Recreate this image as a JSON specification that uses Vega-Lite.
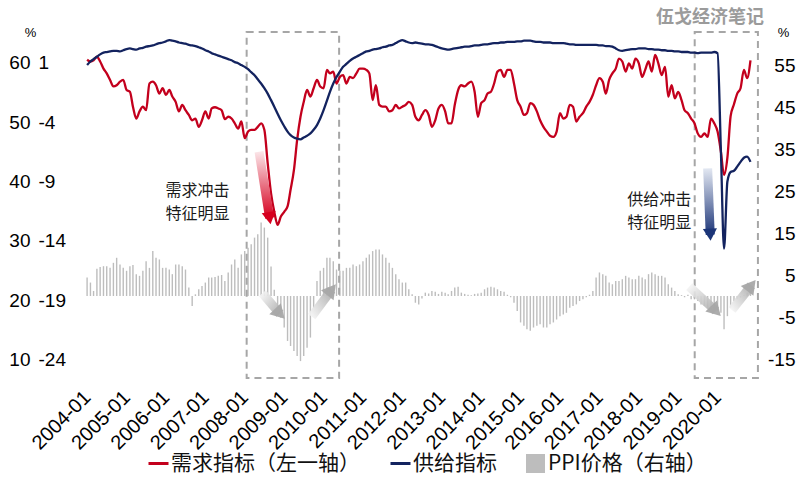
{
"$schema": "https://vega.github.io/schema/vega-lite/v6.json",
"width": 690, "height": 347,
"autosize": {"type": "none"},
"padding": {"left": 74, "top": 33, "right": 36, "bottom": 97},
"background": "white",
"title": {"text": "伍戈经济笔记", "anchor": "end", "frame": "group", "font": "Noto Sans CJK SC", "fontSize": 18, "fontWeight": "bold", "color": "#9b9b9b", "offset": -1},
"config": {"view": {"stroke": null}, "axis": {"grid": false, "domain": false, "ticks": false, "tickSize": 0, "labels": true}},
"datasets": {
"main": [
{"d":"2004-01","r":60.5,"b":0.8,"p":4.4},{"d":"2004-02","r":60.2,"b":1.1,"p":3.2},{"d":"2004-03","r":60.4,"b":1.3,"p":1.2},{"d":"2004-04","r":61.0,"b":1.5,"p":6.5},{"d":"2004-05","r":60.2,"b":1.7,"p":6.9},{"d":"2004-06","r":59.0,"b":1.85,"p":7.1},{"d":"2004-07","r":58.2,"b":1.9,"p":7.1},{"d":"2004-08","r":57.1,"b":1.95,"p":6.7},{"d":"2004-09","r":56.0,"b":2.0,"p":7.9},{"d":"2004-10","r":56.2,"b":2.0,"p":9.1},{"d":"2004-11","r":56.8,"b":1.95,"p":7.5},{"d":"2004-12","r":57.1,"b":2.05,"p":6.7},
{"d":"2005-01","r":55.4,"b":2.15,"p":6.0},{"d":"2005-02","r":55.1,"b":2.2,"p":7.1},{"d":"2005-03","r":52.6,"b":2.15,"p":7.4},{"d":"2005-04","r":50.6,"b":2.1,"p":5.2},{"d":"2005-05","r":51.8,"b":2.2,"p":4.8},{"d":"2005-06","r":52.6,"b":2.25,"p":6.0},{"d":"2005-07","r":52.0,"b":2.35,"p":8.3},{"d":"2005-08","r":56.5,"b":2.4,"p":6.7},{"d":"2005-09","r":56.8,"b":2.45,"p":10.7},{"d":"2005-10","r":56.2,"b":2.55,"p":9.1},{"d":"2005-11","r":54.8,"b":2.65,"p":8.7},{"d":"2005-12","r":55.7,"b":2.7,"p":6.7},
{"d":"2006-01","r":54.6,"b":2.8,"p":6.7},{"d":"2006-02","r":55.4,"b":2.9,"p":6.3},{"d":"2006-03","r":54.3,"b":2.85,"p":5.2},{"d":"2006-04","r":53.4,"b":2.8,"p":7.5},{"d":"2006-05","r":51.8,"b":2.7,"p":7.5},{"d":"2006-06","r":52.9,"b":2.65,"p":7.1},{"d":"2006-07","r":52.0,"b":2.6,"p":6.3},{"d":"2006-08","r":51.2,"b":2.5,"p":2.0},{"d":"2006-09","r":50.3,"b":2.45,"p":-2.4},{"d":"2006-10","r":50.6,"b":2.4,"p":0.4},{"d":"2006-11","r":49.2,"b":2.3,"p":1.6},{"d":"2006-12","r":50.3,"b":2.2,"p":2.4},
{"d":"2007-01","r":51.8,"b":2.05,"p":3.2},{"d":"2007-02","r":50.6,"b":1.95,"p":4.4},{"d":"2007-03","r":52.3,"b":1.8,"p":4.4},{"d":"2007-04","r":52.5,"b":1.7,"p":4.5},{"d":"2007-05","r":52.3,"b":1.6,"p":4.8},{"d":"2007-06","r":52.0,"b":1.5,"p":5.0},{"d":"2007-07","r":50.5,"b":1.4,"p":3.6},{"d":"2007-08","r":50.9,"b":1.3,"p":5.6},{"d":"2007-09","r":50.6,"b":1.2,"p":7.5},{"d":"2007-10","r":49.8,"b":1.05,"p":8.7},{"d":"2007-11","r":48.9,"b":0.95,"p":6.7},{"d":"2007-12","r":50.1,"b":0.8,"p":9.9},
{"d":"2008-01","r":47.3,"b":0.65,"p":10.7},{"d":"2008-02","r":48.4,"b":0.45,"p":11.5},{"d":"2008-03","r":48.7,"b":0.2,"p":12.3},{"d":"2008-04","r":48.7,"b":-0.05,"p":13.9},{"d":"2008-05","r":49.2,"b":-0.4,"p":14.7},{"d":"2008-06","r":49.8,"b":-0.75,"p":17.5},{"d":"2008-07","r":48.7,"b":-1.15,"p":16.3},{"d":"2008-08","r":43.1,"b":-1.6,"p":13.9},{"d":"2008-09","r":38.0,"b":-2.15,"p":7.0},{"d":"2008-10","r":34.9,"b":-2.7,"p":1.5},{"d":"2008-11","r":32.7,"b":-3.3,"p":-2.4},{"d":"2008-12","r":34.1,"b":-3.85,"p":-5.2},
{"d":"2009-01","r":34.9,"b":-4.35,"p":-7.5},{"d":"2009-02","r":35.8,"b":-4.8,"p":-10.7},{"d":"2009-03","r":38.6,"b":-5.1,"p":-11.9},{"d":"2009-04","r":41.9,"b":-5.3,"p":-13.1},{"d":"2009-05","r":47.0,"b":-5.4,"p":-14.3},{"d":"2009-06","r":50.9,"b":-5.45,"p":-15.5},{"d":"2009-07","r":53.4,"b":-5.3,"p":-14.3},{"d":"2009-08","r":55.4,"b":-5.15,"p":-12.3},{"d":"2009-09","r":54.3,"b":-4.95,"p":-9.9},{"d":"2009-10","r":55.7,"b":-4.65,"p":-2.8},{"d":"2009-11","r":57.1,"b":-4.25,"p":3.6},{"d":"2009-12","r":56.0,"b":-3.7,"p":6.0},
{"d":"2010-01","r":55.7,"b":-3.0,"p":6.7},{"d":"2010-02","r":58.8,"b":-2.2,"p":9.1},{"d":"2010-03","r":58.2,"b":-1.45,"p":9.1},{"d":"2010-04","r":58.5,"b":-0.75,"p":8.3},{"d":"2010-05","r":56.5,"b":-0.2,"p":6.3},{"d":"2010-06","r":57.6,"b":0.25,"p":6.0},{"d":"2010-07","r":57.9,"b":0.65,"p":6.0},{"d":"2010-08","r":56.5,"b":0.9,"p":6.7},{"d":"2010-09","r":57.6,"b":1.15,"p":6.7},{"d":"2010-10","r":57.4,"b":1.35,"p":7.5},{"d":"2010-11","r":58.2,"b":1.5,"p":7.1},{"d":"2010-12","r":59.0,"b":1.65,"p":7.5},
{"d":"2011-01","r":59.0,"b":1.8,"p":8.3},{"d":"2011-02","r":58.8,"b":1.95,"p":9.1},{"d":"2011-03","r":58.2,"b":2.0,"p":9.9},{"d":"2011-04","r":53.7,"b":2.1,"p":10.7},{"d":"2011-05","r":56.2,"b":2.15,"p":11.1},{"d":"2011-06","r":52.9,"b":2.2,"p":11.1},{"d":"2011-07","r":52.6,"b":2.3,"p":9.9},{"d":"2011-08","r":52.6,"b":2.35,"p":9.1},{"d":"2011-09","r":51.8,"b":2.45,"p":7.9},{"d":"2011-10","r":52.0,"b":2.5,"p":6.7},{"d":"2011-11","r":52.9,"b":2.65,"p":5.2},{"d":"2011-12","r":52.3,"b":2.8,"p":4.0},
{"d":"2012-01","r":52.6,"b":2.9,"p":3.2},{"d":"2012-02","r":52.9,"b":2.8,"p":3.2},{"d":"2012-03","r":53.4,"b":2.7,"p":1.6},{"d":"2012-04","r":52.9,"b":2.65,"p":0.4},{"d":"2012-05","r":50.9,"b":2.7,"p":-1.6},{"d":"2012-06","r":50.3,"b":2.65,"p":-2.0},{"d":"2012-07","r":51.2,"b":2.6,"p":-0.6},{"d":"2012-08","r":52.0,"b":2.55,"p":0.8},{"d":"2012-09","r":51.2,"b":2.55,"p":0.6},{"d":"2012-10","r":49.2,"b":2.5,"p":1.2},{"d":"2012-11","r":50.3,"b":2.4,"p":1.0},{"d":"2012-12","r":52.3,"b":2.3,"p":0.5},
{"d":"2013-01","r":52.9,"b":2.2,"p":1.0},{"d":"2013-02","r":51.8,"b":2.15,"p":0.8},{"d":"2013-03","r":49.8,"b":2.1,"p":0.4},{"d":"2013-04","r":49.8,"b":2.15,"p":1.2},{"d":"2013-05","r":52.9,"b":2.2,"p":2.0},{"d":"2013-06","r":55.4,"b":2.25,"p":2.2},{"d":"2013-07","r":56.2,"b":2.3,"p":0.8},{"d":"2013-08","r":56.0,"b":2.35,"p":0.5},{"d":"2013-09","r":56.5,"b":2.35,"p":0.3},{"d":"2013-10","r":56.8,"b":2.4,"p":0.2},{"d":"2013-11","r":55.1,"b":2.45,"p":0.5},{"d":"2013-12","r":50.9,"b":2.45,"p":0.6},
{"d":"2014-01","r":53.2,"b":2.5,"p":0.8},{"d":"2014-02","r":53.7,"b":2.55,"p":1.6},{"d":"2014-03","r":54.8,"b":2.55,"p":2.0},{"d":"2014-04","r":55.1,"b":2.6,"p":2.2},{"d":"2014-05","r":56.5,"b":2.65,"p":2.0},{"d":"2014-06","r":58.5,"b":2.65,"p":1.6},{"d":"2014-07","r":58.8,"b":2.7,"p":1.2},{"d":"2014-08","r":57.6,"b":2.7,"p":1.0},{"d":"2014-09","r":58.8,"b":2.75,"p":0.3},{"d":"2014-10","r":58.8,"b":2.75,"p":-0.3},{"d":"2014-11","r":56.5,"b":2.75,"p":-1.6},{"d":"2014-12","r":53.7,"b":2.8,"p":-3.6},
{"d":"2015-01","r":52.6,"b":2.8,"p":-6.3},{"d":"2015-02","r":51.2,"b":2.85,"p":-7.1},{"d":"2015-03","r":51.5,"b":2.85,"p":-7.9},{"d":"2015-04","r":53.2,"b":2.85,"p":-8.3},{"d":"2015-05","r":52.9,"b":2.8,"p":-7.5},{"d":"2015-06","r":51.8,"b":2.75,"p":-7.1},{"d":"2015-07","r":50.3,"b":2.75,"p":-6.7},{"d":"2015-08","r":49.2,"b":2.7,"p":-7.5},{"d":"2015-09","r":48.4,"b":2.7,"p":-7.5},{"d":"2015-10","r":47.7,"b":2.7,"p":-6.7},{"d":"2015-11","r":47.5,"b":2.65,"p":-6.3},{"d":"2015-12","r":48.4,"b":2.65,"p":-5.6},
{"d":"2016-01","r":51.5,"b":2.65,"p":-4.8},{"d":"2016-02","r":50.6,"b":2.65,"p":-4.4},{"d":"2016-03","r":50.9,"b":2.6,"p":-4.0},{"d":"2016-04","r":52.9,"b":2.55,"p":-2.8},{"d":"2016-05","r":52.6,"b":2.55,"p":-2.4},{"d":"2016-06","r":50.1,"b":2.5,"p":-2.0},{"d":"2016-07","r":50.9,"b":2.5,"p":-1.2},{"d":"2016-08","r":51.5,"b":2.5,"p":-0.8},{"d":"2016-09","r":52.6,"b":2.5,"p":-0.3},{"d":"2016-10","r":53.4,"b":2.5,"p":0.3},{"d":"2016-11","r":54.6,"b":2.5,"p":1.2},{"d":"2016-12","r":56.2,"b":2.5,"p":4.4},
{"d":"2017-01","r":57.4,"b":2.45,"p":5.6},{"d":"2017-02","r":56.8,"b":2.45,"p":5.2},{"d":"2017-03","r":54.8,"b":2.4,"p":4.8},{"d":"2017-04","r":57.1,"b":2.4,"p":3.2},{"d":"2017-05","r":58.2,"b":2.35,"p":2.8},{"d":"2017-06","r":59.0,"b":2.2,"p":3.6},{"d":"2017-07","r":60.7,"b":2.05,"p":3.6},{"d":"2017-08","r":60.2,"b":2.0,"p":4.0},{"d":"2017-09","r":58.5,"b":2.05,"p":4.8},{"d":"2017-10","r":59.9,"b":2.1,"p":4.4},{"d":"2017-11","r":59.0,"b":2.15,"p":4.0},{"d":"2017-12","r":60.7,"b":2.15,"p":4.0},
{"d":"2018-01","r":59.9,"b":2.2,"p":4.8},{"d":"2018-02","r":57.6,"b":2.2,"p":4.4},{"d":"2018-03","r":58.8,"b":2.2,"p":4.0},{"d":"2018-04","r":60.2,"b":2.15,"p":5.2},{"d":"2018-05","r":58.5,"b":2.15,"p":5.6},{"d":"2018-06","r":61.3,"b":2.1,"p":5.2},{"d":"2018-07","r":59.9,"b":2.1,"p":4.8},{"d":"2018-08","r":57.9,"b":2.05,"p":4.8},{"d":"2018-09","r":59.3,"b":2.05,"p":4.4},{"d":"2018-10","r":54.3,"b":2.0,"p":2.8},{"d":"2018-11","r":56.2,"b":2.0,"p":2.0},{"d":"2018-12","r":54.0,"b":1.95,"p":1.2},
{"d":"2019-01","r":55.1,"b":1.95,"p":0.4},{"d":"2019-02","r":53.7,"b":1.9,"p":0.2},{"d":"2019-03","r":52.0,"b":1.9,"p":-0.3},{"d":"2019-04","r":51.5,"b":1.9,"p":0.3},{"d":"2019-05","r":50.6,"b":1.85,"p":-0.8},{"d":"2019-06","r":49.8,"b":1.85,"p":-0.8},{"d":"2019-07","r":48.1,"b":1.8,"p":-1.2},{"d":"2019-08","r":47.5,"b":1.85,"p":-2.0},{"d":"2019-09","r":48.1,"b":1.85,"p":-2.4},{"d":"2019-10","r":47.5,"b":1.85,"p":-2.8},{"d":"2019-11","r":50.6,"b":1.85,"p":-3.2},{"d":"2019-12","r":49.8,"b":1.9,"p":-3.2},
{"d":"2020-01","r":48.4,"b":1.8,"p":-3.6},{"d":"2020-02","r":45.0,"b":-6.5,"p":-4.0},{"d":"2020-03","r":41.1,"b":-14.65,"p":-7.9},{"d":"2020-04","r":44.0,"b":-9.0,"p":-4.8},{"d":"2020-05","r":51.0,"b":-8.2,"p":-2.8},{"d":"2020-06","r":53.0,"b":-8.1,"p":-1.2},{"d":"2020-07","r":54.8,"b":-7.75,"p":-0.8},{"d":"2020-08","r":55.7,"b":-7.35,"p":-0.4},{"d":"2020-09","r":58.8,"b":-7.0,"p":0.2},{"d":"2020-10","r":57.4,"b":-6.9,"p":0.8},{"d":"2020-11","r":60.4,"b":-7.35,"p":1.0}
],
"boxes": [{"d":"2008-01-19","d2":"2010-05-25","v":65.15,"v2":6.92},{"d":"2019-06-03","d2":"2021-01-09","v":65.15,"v2":6.92}],
"notes": [{"d":"2006-10-20","v":38.4,"t":"需求冲击\n特征明显"},{"d":"2018-07-10","v":36.9,"t":"供给冲击\n特征明显"}],
"redArrow": [{"d":"2008-05-13","v":45.02,"d2":"2008-08-19","v2":33.84}],
"blueArrow": [{"d":"2019-10-01","v":42.22,"d2":"2019-10-25","v2":31.04}],
"greyDown": [{"d":"2008-06-13","v":21.18,"d2":"2008-11-22","v2":17.73},{"d":"2019-04-13","v":22.29,"d2":"2019-12-17","v2":18.2}],
"greyUp": [{"d":"2009-09-13","v":17.24,"d2":"2010-03-16","v2":21.77},{"d":"2020-05-13","v":18.37,"d2":"2020-11-09","v2":22.51}]
},
"layer": [
{
"data": {"name": "main"},
"mark": {"type": "bar", "width": 1.4},
"encoding": {
"x": {"field": "d", "type": "temporal", "scale": {"type": "utc", "domain": [{"year":2003,"month":10,"date":18,"utc":true},{"year":2021,"month":1,"date":19,"utc":true}]},
 "axis": {"orient": "bottom", "values": [{"year":2004,"month":1,"date":1,"utc":true},{"year":2005,"month":1,"date":1,"utc":true},{"year":2006,"month":1,"date":1,"utc":true},{"year":2007,"month":1,"date":1,"utc":true},{"year":2008,"month":1,"date":1,"utc":true},{"year":2009,"month":1,"date":1,"utc":true},{"year":2010,"month":1,"date":1,"utc":true},{"year":2011,"month":1,"date":1,"utc":true},{"year":2012,"month":1,"date":1,"utc":true},{"year":2013,"month":1,"date":1,"utc":true},{"year":2014,"month":1,"date":1,"utc":true},{"year":2015,"month":1,"date":1,"utc":true},{"year":2016,"month":1,"date":1,"utc":true},{"year":2017,"month":1,"date":1,"utc":true},{"year":2018,"month":1,"date":1,"utc":true},{"year":2019,"month":1,"date":1,"utc":true},{"year":2020,"month":1,"date":1,"utc":true}],
  "labelExpr": "utcFormat(datum.value, '%Y-%m')", "labelAngle": -45, "labelAlign": "right", "labelBaseline": "middle", "labelPadding": 14,
  "labelFont": "Liberation Sans", "labelFontSize": 20, "labelColor": "#000000", "labelOverlap": false, "labelFlush": false, "labelBound": false, "title": null}},
"y": {"field": "p", "type": "quantitative", "scale": {"domain": [-20, 62.62]},
 "axis": {"orient": "right", "values": [-15,-5,5,15,25,35,45,55], "labelExpr": "datum.value + ''", "labelAlign": "right", "labelPadding": 31,
  "labelFont": "Liberation Sans", "labelFontSize": 19, "labelColor": "#000000", "labelOverlap": false, "labelFlush": false,
  "title": "%", "titleAngle": 0, "titleX": 19, "titleY": -1, "titleAlign": "center", "titleBaseline": "middle", "titleFont": "Liberation Sans", "titleFontSize": 13, "titleFontWeight": "normal", "titleColor": "#000000"}},
"color": {"datum": "PPI价格（右轴）", "scale": {"domain": ["需求指标（左一轴）", "供给指标", "PPI价格（右轴）"], "range": ["#c3001d", "#13235f", "#bdbdbd"]},
 "legend": {"orient": "none", "legendX": 73, "legendY": 419, "direction": "horizontal", "title": null, "padding": 0, "gridAlign": "none",
  "labelFont": "Noto Sans CJK SC", "labelFontSize": 21, "labelColor": "#111111", "labelLimit": 400, "labelOffset": 1, "columnPadding": 24, "symbolSize": 400,
  "encode": {"symbols": {"update": {
   "shape": {"signal": "datum.index === 2 ? 'square' : 'stroke'"},
   "stroke": {"signal": "datum.index === 2 ? 'transparent' : scale('color', datum.value)"},
   "fill": {"signal": "datum.index === 2 ? scale('color', datum.value) : 'transparent'"},
   "strokeWidth": {"value": 3},
   "size": {"signal": "datum.index === 2 ? 256 : 400"},
   "opacity": {"value": 1}}}}}}
}
},
{
"layer": [
{
"data": {"name": "boxes"},
"mark": {"type": "rect", "fill": "transparent", "stroke": "#a6a6a6", "strokeWidth": 2, "strokeDash": [7, 5]},
"encoding": {
"x": {"field": "d", "type": "temporal", "scale": {"type": "utc", "domain": [{"year":2003,"month":10,"date":18,"utc":true},{"year":2021,"month":1,"date":19,"utc":true}]}},
"x2": {"field": "d2"},
"y": {"field": "v", "type": "quantitative", "scale": {"domain": [6.58, 65]}},
"y2": {"field": "v2"}
}
},
{
"data": {"name": "main"},
"mark": {"type": "line", "strokeWidth": 2.3, "interpolate": "monotone"},
"encoding": {
"x": {"field": "d", "type": "temporal", "scale": {"type": "utc", "domain": [{"year":2003,"month":10,"date":18,"utc":true},{"year":2021,"month":1,"date":19,"utc":true}]}},
"y": {"field": "r", "type": "quantitative", "scale": {"domain": [6.58, 65]},
 "axis": {"orient": "left", "values": [10,20,30,40,50,60], "labelPadding": 44, "labelFont": "Liberation Sans", "labelFontSize": 19, "labelColor": "#000000", "labelOverlap": false, "labelFlush": false,
  "title": "%", "titleAngle": 0, "titleX": -44, "titleY": -1, "titleAlign": "center", "titleBaseline": "middle", "titleFont": "Liberation Sans", "titleFontSize": 13, "titleFontWeight": "normal", "titleColor": "#000000"}},
"color": {"datum": "需求指标（左一轴）"}
}
},
{
"data": {"name": "greyDown"},
"mark": {"type": "rule", "strokeWidth": 9, "strokeCap": "butt", "opacity": 0.9, "stroke": {"gradient": "linear", "x1": 0, "y1": 0, "x2": 1, "y2": 1, "stops": [{"offset": 0, "color": "#f4f4f4"}, {"offset": 1, "color": "#a8a8a8"}]}},
"encoding": {
"x": {"field": "d", "type": "temporal", "scale": {"type": "utc", "domain": [{"year":2003,"month":10,"date":18,"utc":true},{"year":2021,"month":1,"date":19,"utc":true}]}},
"x2": {"field": "d2"},
"y": {"field": "v", "type": "quantitative", "scale": {"domain": [6.58, 65]}},
"y2": {"field": "v2"}
}
},
{
"data": {"name": "greyDown"},
"mark": {"type": "point", "shape": "triangle-down", "angle": -44, "size": 256, "filled": true, "color": "#a8a8a8", "opacity": 0.95},
"encoding": {
"x": {"field": "d2", "type": "temporal", "scale": {"type": "utc", "domain": [{"year":2003,"month":10,"date":18,"utc":true},{"year":2021,"month":1,"date":19,"utc":true}]}},
"y": {"field": "v2", "type": "quantitative", "scale": {"domain": [6.58, 65]}}
}
},
{
"data": {"name": "greyUp"},
"mark": {"type": "rule", "strokeWidth": 9, "strokeCap": "butt", "opacity": 0.9, "stroke": {"gradient": "linear", "x1": 0, "y1": 1, "x2": 1, "y2": 0, "stops": [{"offset": 0, "color": "#f4f4f4"}, {"offset": 1, "color": "#a8a8a8"}]}},
"encoding": {
"x": {"field": "d", "type": "temporal", "scale": {"type": "utc", "domain": [{"year":2003,"month":10,"date":18,"utc":true},{"year":2021,"month":1,"date":19,"utc":true}]}},
"x2": {"field": "d2"},
"y": {"field": "v", "type": "quantitative", "scale": {"domain": [6.58, 65]}},
"y2": {"field": "v2"}
}
},
{
"data": {"name": "greyUp"},
"mark": {"type": "point", "shape": "triangle-up", "angle": 38, "size": 256, "filled": true, "color": "#a8a8a8", "opacity": 0.95},
"encoding": {
"x": {"field": "d2", "type": "temporal", "scale": {"type": "utc", "domain": [{"year":2003,"month":10,"date":18,"utc":true},{"year":2021,"month":1,"date":19,"utc":true}]}},
"y": {"field": "v2", "type": "quantitative", "scale": {"domain": [6.58, 65]}}
}
},
{
"data": {"name": "redArrow"},
"mark": {"type": "rule", "strokeWidth": 9, "strokeCap": "butt", "stroke": {"gradient": "linear", "x1": 0, "y1": 0, "x2": 0, "y2": 1, "stops": [{"offset": 0, "color": "#fbe6e9"}, {"offset": 1, "color": "#d6001f"}]}},
"encoding": {
"x": {"field": "d", "type": "temporal", "scale": {"type": "utc", "domain": [{"year":2003,"month":10,"date":18,"utc":true},{"year":2021,"month":1,"date":19,"utc":true}]}},
"x2": {"field": "d2"},
"y": {"field": "v", "type": "quantitative", "scale": {"domain": [6.58, 65]}},
"y2": {"field": "v2"}
}
},
{
"data": {"name": "redArrow"},
"mark": {"type": "point", "shape": "triangle-down", "angle": -9, "size": 200, "filled": true, "color": "#d6001f", "opacity": 1},
"encoding": {
"x": {"field": "d2", "type": "temporal", "scale": {"type": "utc", "domain": [{"year":2003,"month":10,"date":18,"utc":true},{"year":2021,"month":1,"date":19,"utc":true}]}},
"y": {"field": "v2", "type": "quantitative", "scale": {"domain": [6.58, 65]}}
}
},
{
"data": {"name": "blueArrow"},
"mark": {"type": "rule", "strokeWidth": 9, "strokeCap": "butt", "stroke": {"gradient": "linear", "x1": 0, "y1": 0, "x2": 0, "y2": 1, "stops": [{"offset": 0, "color": "#e3e8f2"}, {"offset": 1, "color": "#1c3578"}]}},
"encoding": {
"x": {"field": "d", "type": "temporal", "scale": {"type": "utc", "domain": [{"year":2003,"month":10,"date":18,"utc":true},{"year":2021,"month":1,"date":19,"utc":true}]}},
"x2": {"field": "d2"},
"y": {"field": "v", "type": "quantitative", "scale": {"domain": [6.58, 65]}},
"y2": {"field": "v2"}
}
},
{
"data": {"name": "blueArrow"},
"mark": {"type": "point", "shape": "triangle-down", "angle": -3, "size": 200, "filled": true, "color": "#1c3578", "opacity": 1},
"encoding": {
"x": {"field": "d2", "type": "temporal", "scale": {"type": "utc", "domain": [{"year":2003,"month":10,"date":18,"utc":true},{"year":2021,"month":1,"date":19,"utc":true}]}},
"y": {"field": "v2", "type": "quantitative", "scale": {"domain": [6.58, 65]}}
}
},
{
"data": {"name": "notes"},
"mark": {"type": "text", "font": "Noto Sans CJK SC", "fontSize": 16, "color": "#1a1a1a", "lineBreak": "\n", "lineHeight": 23.5, "align": "center", "baseline": "middle"},
"encoding": {
"x": {"field": "d", "type": "temporal", "scale": {"type": "utc", "domain": [{"year":2003,"month":10,"date":18,"utc":true},{"year":2021,"month":1,"date":19,"utc":true}]}},
"y": {"field": "v", "type": "quantitative", "scale": {"domain": [6.58, 65]}},
"text": {"field": "t"}
}
}
]
},
{
"data": {"name": "main"},
"mark": {"type": "line", "strokeWidth": 2.3, "interpolate": "monotone"},
"encoding": {
"x": {"field": "d", "type": "temporal", "scale": {"type": "utc", "domain": [{"year":2003,"month":10,"date":18,"utc":true},{"year":2021,"month":1,"date":19,"utc":true}]}},
"y": {"field": "b", "type": "quantitative", "scale": {"domain": [-25.71, 3.5]},
 "axis": {"orient": "left", "values": [1,-4,-9,-14,-19,-24], "labelExpr": "datum.value + ''", "labelAlign": "left", "labelPadding": 36, "labelFont": "Liberation Sans", "labelFontSize": 19, "labelColor": "#000000", "labelOverlap": false, "labelFlush": false, "title": null}},
"color": {"datum": "供给指标"}
}
}
],
"resolve": {"scale": {"y": "independent"}}
}
